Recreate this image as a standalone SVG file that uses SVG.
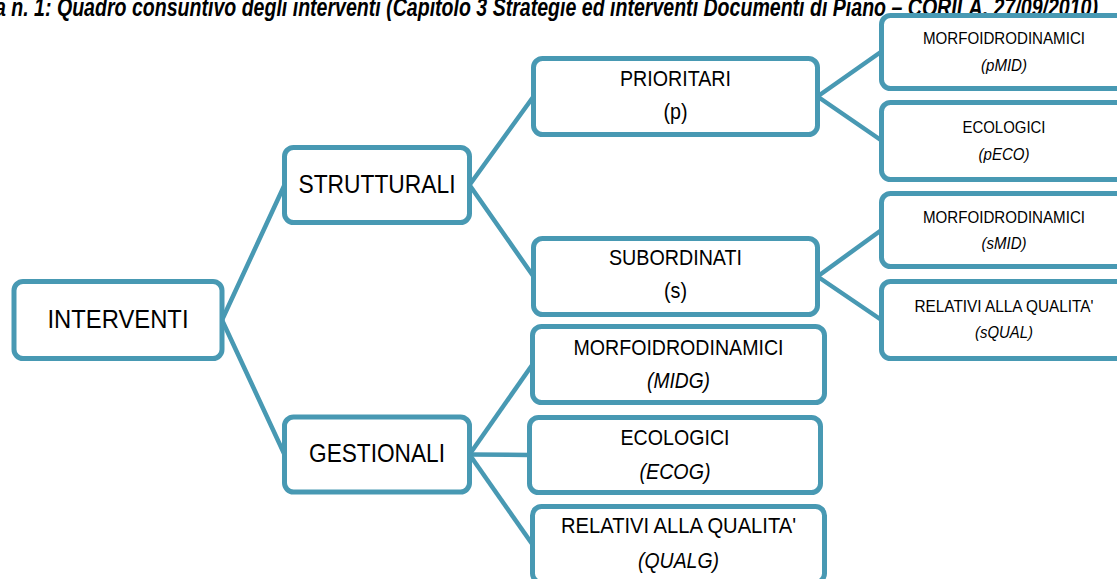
<svg xmlns="http://www.w3.org/2000/svg" width="1117" height="579" viewBox="0 0 1117 579">
<style>
.box{fill:#fff;stroke:#4899b3;stroke-width:5}
.con{stroke:#4899b3;stroke-width:4.5;fill:none;stroke-linecap:round}
text{font-family:"Liberation Sans",Arial,sans-serif;fill:#000;text-anchor:middle}
.l1{font-size:26px}
.l2{font-size:22px}
.l3{font-size:17px}
.it{font-style:italic}
.title{font-size:25px;font-weight:bold;font-style:italic;text-anchor:start}
</style>
<rect width="1117" height="579" fill="#fff"/>
<text class="title" x="-5" y="16" textLength="1103" lengthAdjust="spacingAndGlyphs">a n. 1: Quadro consuntivo degli interventi (Capitolo 3 Strategie ed interventi Documenti di Piano – CORILA, 27/09/2010)</text>
<g id="connectors">
<line class="con" x1="222" y1="320" x2="284.5" y2="185"/>
<line class="con" x1="222" y1="320" x2="284.5" y2="454.5"/>
<line class="con" x1="469.5" y1="185" x2="533.5" y2="96.5"/>
<line class="con" x1="469.5" y1="185" x2="533.5" y2="276.5"/>
<line class="con" x1="469.5" y1="454.5" x2="532.5" y2="364.5"/>
<line class="con" x1="469.5" y1="454.5" x2="529.5" y2="455"/>
<line class="con" x1="469.5" y1="454.5" x2="532.5" y2="544.5"/>
<line class="con" x1="817.5" y1="96.5" x2="881.5" y2="51.5"/>
<line class="con" x1="817.5" y1="96.5" x2="881.5" y2="140.5"/>
<line class="con" x1="817.5" y1="276.5" x2="881.5" y2="230"/>
<line class="con" x1="817.5" y1="276.5" x2="881.5" y2="320"/>
</g>
<g id="interventi">
<rect class="box" x="14" y="281.5" width="208" height="77" rx="9"/>
<text class="l1" x="118" y="328" textLength="141" lengthAdjust="spacingAndGlyphs">INTERVENTI</text>
</g>
<g id="strutturali">
<rect class="box" x="284.5" y="147.5" width="185" height="75" rx="9"/>
<text class="l1" x="377" y="193" textLength="157" lengthAdjust="spacingAndGlyphs">STRUTTURALI</text>
</g>
<g id="gestionali">
<rect class="box" x="284.5" y="417" width="185" height="75" rx="9"/>
<text class="l1" x="377" y="462" textLength="136" lengthAdjust="spacingAndGlyphs">GESTIONALI</text>
</g>
<g id="prioritari">
<rect class="box" x="533.5" y="58.5" width="284" height="76" rx="9"/>
<text class="l2" x="675.5" y="86" textLength="111" lengthAdjust="spacingAndGlyphs">PRIORITARI</text>
<text class="l2" x="675.5" y="119" textLength="24" lengthAdjust="spacingAndGlyphs">(p)</text>
</g>
<g id="subordinati">
<rect class="box" x="533.5" y="238.5" width="284" height="76" rx="9"/>
<text class="l2" x="675.5" y="265" textLength="133" lengthAdjust="spacingAndGlyphs">SUBORDINATI</text>
<text class="l2" x="675.5" y="298" textLength="23" lengthAdjust="spacingAndGlyphs">(s)</text>
</g>
<g id="midg">
<rect class="box" x="532.5" y="326.5" width="292" height="76" rx="9"/>
<text class="l2" x="678.5" y="355" textLength="210" lengthAdjust="spacingAndGlyphs">MORFOIDRODINAMICI</text>
<text class="l2 it" x="678.5" y="388" textLength="63" lengthAdjust="spacingAndGlyphs">(MIDG)</text>
</g>
<g id="ecog">
<rect class="box" x="529.5" y="417.5" width="291" height="75" rx="9"/>
<text class="l2" x="675" y="445" textLength="109" lengthAdjust="spacingAndGlyphs">ECOLOGICI</text>
<text class="l2 it" x="675" y="479" textLength="71" lengthAdjust="spacingAndGlyphs">(ECOG)</text>
</g>
<g id="qualg">
<rect class="box" x="532.5" y="506.5" width="292" height="76" rx="9"/>
<text class="l2" x="678.5" y="533" textLength="235" lengthAdjust="spacingAndGlyphs">RELATIVI ALLA QUALITA'</text>
<text class="l2 it" x="678.5" y="568" textLength="81" lengthAdjust="spacingAndGlyphs">(QUALG)</text>
</g>
<g id="pmid">
<rect class="box" x="881.5" y="15.5" width="250" height="73" rx="9"/>
<text class="l3" x="1004" y="44" textLength="162" lengthAdjust="spacingAndGlyphs">MORFOIDRODINAMICI</text>
<text class="l3 it" x="1004" y="71" textLength="46" lengthAdjust="spacingAndGlyphs">(pMID)</text>
</g>
<g id="peco">
<rect class="box" x="881.5" y="102.5" width="250" height="77" rx="9"/>
<text class="l3" x="1004" y="133" textLength="83" lengthAdjust="spacingAndGlyphs">ECOLOGICI</text>
<text class="l3 it" x="1004" y="160" textLength="51" lengthAdjust="spacingAndGlyphs">(pECO)</text>
</g>
<g id="smid">
<rect class="box" x="881.5" y="193.5" width="250" height="73" rx="9"/>
<text class="l3" x="1004" y="223" textLength="162" lengthAdjust="spacingAndGlyphs">MORFOIDRODINAMICI</text>
<text class="l3 it" x="1004" y="249" textLength="45" lengthAdjust="spacingAndGlyphs">(sMID)</text>
</g>
<g id="squal">
<rect class="box" x="881.5" y="281.5" width="250" height="77" rx="9"/>
<text class="l3" x="1004" y="312" textLength="179" lengthAdjust="spacingAndGlyphs">RELATIVI ALLA QUALITA'</text>
<text class="l3 it" x="1004" y="338" textLength="58" lengthAdjust="spacingAndGlyphs">(sQUAL)</text>
</g>
</svg>
